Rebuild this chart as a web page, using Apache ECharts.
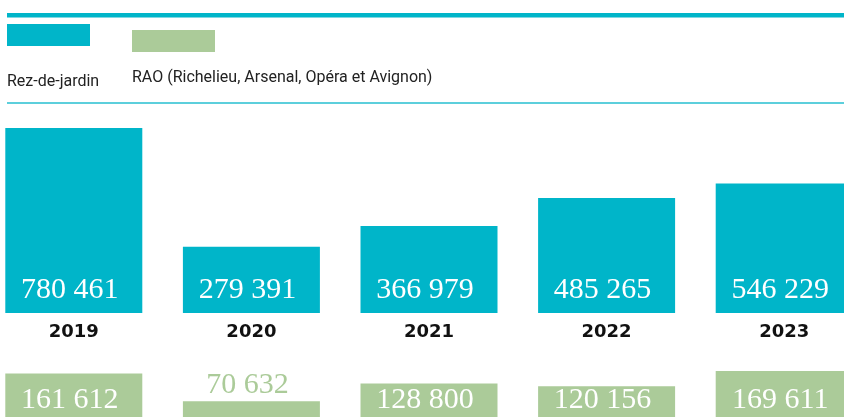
<!DOCTYPE html>
<html>
<head>
<meta charset="utf-8">
<script src="https://cdn.jsdelivr.net/npm/echarts@6/dist/echarts.min.js"></script>
<style>
  html, body { margin: 0; padding: 0; background: #fff; overflow: hidden; }
  body { width: 844px; height: 417px; position: relative; }
  /* le graphique déborde un peu à gauche, à droite et en bas, comme l'original */
  #chart { position: absolute; left: -15px; top: 0; width: 888px; height: 423px; }
</style>
</head>
<body>
<div id="chart"></div>
<script>
// données
const years = ['2019', '2020', '2021', '2022', '2023']
const rezDeJardin = [780461, 279391, 366979, 485265, 546229]
const rao = [161612, 70632, 128800, 120156, 169611]
const seriesNames = ['Rez-de-jardin', 'RAO (Richelieu, Arsenal, Opéra et Avignon)']

const teal = '#00b5c9'
const green = '#abcb99'
const dx = 15 // décalage du conteneur

// nombre avec espace comme séparateur de milliers
function fmt(v) {
  return String(v).replace(/\B(?=(\d{3})+(?!\d))/g, ' ')
}

const chart = echarts.init(document.getElementById('chart'))

const valueLabel = {
  show: true,
  position: 'insideBottom',
  distance: 8,
  offset: [-4, 0],
  color: '#fff',
  fontFamily: 'Liberation Serif',
  fontSize: 30,
  formatter: p => fmt(p.value)
}

// les petites barres : étiquette au-dessus, en vert
const raoData = rao.map(v => {
  if (v < 100000) {
    return {
      value: v,
      label: { position: 'top', distance: 1, color: green, offset: [-4, 0] }
    }
  }
  return v
})

const option = {
  animation: false,
  grid: [
    { left: 0, right: 0, top: 128, bottom: 110 },
    { left: 0, right: 0, top: 371, bottom: 0 }
  ],
  xAxis: [
    {
      type: 'category',
      gridIndex: 0,
      data: years,
      axisLine: { show: false },
      axisTick: { show: false },
      axisLabel: {
        margin: 10,
        color: '#111',
        fontFamily: 'DejaVu Sans',
        fontWeight: 'bold',
        fontSize: 18
      }
    },
    {
      type: 'category',
      gridIndex: 1,
      data: years,
      show: false
    }
  ],
  yAxis: [
    { type: 'value', gridIndex: 0, min: 0, max: 'dataMax', show: false },
    { type: 'value', gridIndex: 1, min: 0, max: 'dataMax', show: false }
  ],
  series: [
    {
      name: seriesNames[0],
      type: 'bar',
      xAxisIndex: 0,
      yAxisIndex: 0,
      barWidth: 137,
      itemStyle: { color: teal },
      label: valueLabel,
      data: rezDeJardin
    },
    {
      name: seriesNames[1],
      type: 'bar',
      xAxisIndex: 1,
      yAxisIndex: 1,
      barWidth: 137,
      itemStyle: { color: green },
      label: valueLabel,
      data: raoData
    }
  ],
  graphic: [
    // filet du haut
    { type: 'rect', shape: { x: 7 + dx, y: 13, width: 837, height: 4 }, style: { fill: teal } },
    { type: 'rect', shape: { x: 7 + dx, y: 17, width: 837, height: 1 }, style: { fill: '#7fd8e2' } },
    // légende
    { type: 'rect', shape: { x: 7 + dx, y: 24, width: 83, height: 22 }, style: { fill: teal } },
    { type: 'rect', shape: { x: 132 + dx, y: 30, width: 83, height: 22 }, style: { fill: green } },
    {
      type: 'text', x: 7 + dx, y: 82,
      style: { text: seriesNames[0], fill: '#222', font: '16px Roboto', textVerticalAlign: 'middle' }
    },
    {
      type: 'text', x: 132 + dx, y: 78,
      style: { text: seriesNames[1], fill: '#222', font: '16px Roboto', textVerticalAlign: 'middle' }
    },
    // filet sous la légende
    { type: 'rect', shape: { x: 7 + dx, y: 102, width: 837, height: 2 }, style: { fill: '#5ccfdc' } }
  ]
}

chart.setOption(option)
</script>
</body>
</html>
